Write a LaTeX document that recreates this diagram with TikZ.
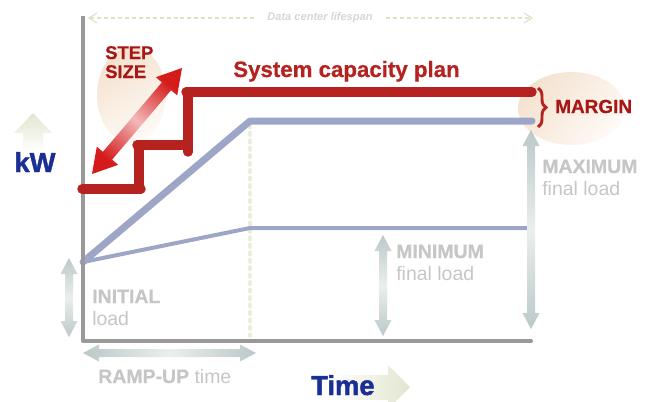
\documentclass[tikz,border=0pt]{standalone}
\usepackage{fontspec}
\setmainfont{Liberation Sans}
\newfontfamily\heavyfont{Liberation Sans Bold}[FakeBold=1.6]
\newfontfamily\semiheavy{Liberation Sans Bold}[FakeBold=0.6]
\usetikzlibrary{arrows.meta,decorations.pathreplacing,calc}
\definecolor{capred}{HTML}{B52220}
\definecolor{labred}{HTML}{A81616}
\definecolor{arrred}{HTML}{D41A1A}
\definecolor{arrpink}{HTML}{F4B8B8}
\definecolor{loadblue}{HTML}{9EA6C8}
\definecolor{axisgray}{HTML}{999999}
\definecolor{txtgray}{HTML}{C6C6C6}
\definecolor{txtlight}{HTML}{D6D6D6}
\definecolor{arrgray}{HTML}{BCC8C8}
\definecolor{arrlight}{HTML}{EAEEEE}
\definecolor{lifegreen}{HTML}{DDE2C4}
\definecolor{beige}{HTML}{F4E2CF}
\definecolor{beigelight}{HTML}{FEFAF6}
\definecolor{navy}{HTML}{1B2E92}
\definecolor{paleolive}{HTML}{E1E6CF}
\definecolor{dotgreen}{HTML}{ECEEDD}
\begin{document}
\begin{tikzpicture}[x=0.75pt,y=-0.75pt,
  redstep/.style={capred, line width=7.1pt, line cap=round},
  graybold/.style={text=txtgray, font=\semiheavy\fontsize{14.6}{17}\selectfont, anchor=base west, inner sep=0pt},
  grayreg/.style={text=txtgray, font=\fontsize{14.6}{17}\selectfont, anchor=base west, inner sep=0pt},
  lifeline/.style={lifegreen, line width=0.8pt, dash pattern=on 3pt off 2.2pt, -{Straight Barb[length=6pt,width=7.5pt]}},
  grayarrow/.style={top color=arrgray, bottom color=arrgray, middle color=arrlight},
  bigblue/.style={text=navy, font=\heavyfont\fontsize{20.5}{22}\selectfont, inner sep=0pt}
]
\useasboundingbox (0,0) rectangle (650,401);

% background ellipses
\shade[top color=beige, bottom color=beigelight, shading angle=30] (131.5,95) ellipse [x radius=34.5, y radius=48];
\shade[top color=beige, bottom color=beigelight, shading angle=50] (571.5,108.5) ellipse [x radius=53.5, y radius=36.5];

% kW and Time pale arrows
\shade[top color=paleolive, bottom color=white] (33,113) -- (52,133) -- (43,133) -- (43,152) -- (23,152) -- (23,133) -- (14,133) -- cycle;
\shade[left color=white, right color=paleolive] (330,375) -- (388,375) -- (388,365) -- (410,387) -- (388,409) -- (388,400) -- (330,400) -- cycle;

% lifespan
\node[text=txtlight, font=\bfseries\itshape\fontsize{8.3}{10}\selectfont, inner sep=0pt] (life) at (320,18) {Data center lifespan};
\coordinate (lsL) at (88,18);
\coordinate (lsR) at (533,18);
\draw[lifeline, shorten <=10pt] (life.west) -- (lsL);
\draw[lifeline, shorten <=10pt] (life.east) -- (lsR);

% key points
\coordinate (o) at (83,262);
\coordinate (rampTop) at (250,121);
\coordinate (maxEnd) at (532,121);
\coordinate (minKnee) at (250,228);
\coordinate (minEnd) at (527,228);

% ramp-up dotted marker
\draw[dotgreen, line width=2.6pt, line cap=round, dash pattern=on 2pt off 3.6pt] (250,125) -- (250,336);

% load lines
\draw[loadblue, line width=5.25pt, line cap=round, line join=round] (o) -- (rampTop) -- (maxEnd);
\draw[loadblue, line width=3pt, line join=round] (o) -- (minKnee) -- (minEnd);

% axes
\coordinate (yTop) at (83,16);
\coordinate (orig) at (83,341);
\coordinate (xEnd) at (531,341);
\draw[axisgray, line width=2.4pt] (yTop) -- (orig);
\draw[axisgray, line width=3pt, line cap=round] (orig) -- (xEnd);

% capacity steps
\draw[redstep] (82,189) -- (141,189);
\draw[redstep] (139,189) -- (139,145);
\draw[redstep] (137,145) -- (188,145);
\draw[redstep] (188,152) -- (188,92);
\draw[redstep] (186,92) -- (532,92);

% step size label and arrow
\node[text=labred, font=\semiheavy\fontsize{13.8}{14.25}\selectfont, align=left, anchor=base west, inner sep=0pt] (step) at (105,78) {STEP\\SIZE};
\shade[top color=arrred, bottom color=arrred, middle color=arrpink, shading angle=-40]
  (92,174) -- (118.2,164.8) -- (112.1,159.6) -- (171.1,90.2) -- (177.2,95.4) -- (182,68)
  -- (155.8,77.2) -- (161.9,82.4) -- (102.9,151.8) -- (96.8,146.6) -- cycle;

% titles
\node[text=capred, font=\semiheavy\fontsize{16.7}{19}\selectfont, anchor=base west, inner sep=0pt] (plan) at (233,77) {System capacity plan};
\draw[capred, line width=2.2pt, decorate, decoration={brace, amplitude=6pt}] (538,88) -- (538,127);
\node[text=labred, font=\semiheavy\fontsize{14.2}{17}\selectfont, anchor=base west, inner sep=0pt] (margin) at (555,113) {MARGIN};

% axis labels
\node[bigblue, anchor=base] (kw) at (35,172) {kW};
\node[bigblue, anchor=base west] (time) at (311,395) {Time};

% gray double arrows
\shade[grayarrow] (69,258) -- (77.5,274) -- (73,274) -- (73,321) -- (77.5,321) -- (69,337) -- (60.5,321) -- (65,321) -- (65,274) -- (60.5,274) -- cycle;
\shade[grayarrow] (383,235) -- (391.5,251) -- (387,251) -- (387,320) -- (391.5,320) -- (383,336) -- (374.5,320) -- (379,320) -- (379,251) -- (374.5,251) -- cycle;
\shade[grayarrow] (531,130) -- (539.5,146) -- (535,146) -- (535,313) -- (539.5,313) -- (531,329) -- (522.5,313) -- (527,313) -- (527,146) -- (522.5,146) -- cycle;
\shade[left color=arrgray, right color=arrgray, middle color=arrlight] (83,353) -- (99,344.5) -- (99,349) -- (240,349) -- (240,344.5) -- (256,353) -- (240,361.5) -- (240,357) -- (99,357) -- (99,361.5) -- cycle;

% gray labels
\node[graybold] (init) at (92,303) {INITIAL};
\node[grayreg] (initload) at (92,325) {load};
\node[graybold] (minlab) at (396,258) {MINIMUM};
\node[grayreg] (minload) at (396,280) {final load};
\node[graybold] (maxlab) at (542,173) {MAXIMUM};
\node[grayreg] (maxload) at (542,195) {final load};
\node[graybold] (ramp) at (98,383) {RAMP-UP {\normalfont time}};
\end{tikzpicture}
\end{document}
